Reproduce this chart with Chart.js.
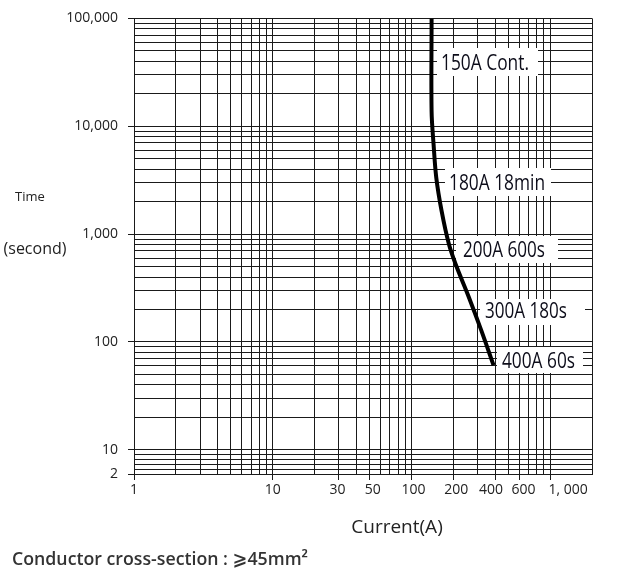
<!DOCTYPE html>
<html><head><meta charset="utf-8">
<script src="https://cdn.jsdelivr.net/npm/chart.js@4.4.1/dist/chart.umd.min.js"></script>
<style>html,body{margin:0;padding:0;background:#fff;} #wrap{position:relative;width:621px;height:571px;}</style>
</head><body><div id="wrap"><canvas id="c"></canvas></div>
<script>
// ---- data ----
const currentA = [139.6, 139.6, 144.3, 150.9, 164.8, 186.0, 207.8, 259.1, 318.4, 390.4];
const timeS    = [100000, 13750, 6776, 3332, 1641, 808, 528, 260, 128, 60.8];
const curveLabels = ['150A Cont.', '180A 18min', '200A 600s', '300A 180s', '400A 60s'];
const xTickValues = [1, 10, 30, 50, 100, 200, 400, 600, 1000];
const xTickLabels = ['1', '10', '30', '50', '100', '200', '400', '600', '1, 000'];
const xMax = 2000;
const yTickValues = [100000, 10000, 1000, 100, 10, 2];
const yTickLabels = ['100,000', '10,000', '1,000', '100', '10', '2'];
const yBottomLines = [8.4, 6.8, 5.2, 3.6];
const xTitle = 'Current(A)';
const yTitle1 = 'Time';
const yTitle2 = '(second)';
const footNote = 'Conductor cross-section : \u2A7E45mm\u00B2';

// ---- grid values (1..9 x 10^k) ----
const xGrid = [];
for (let k = 0; k < 3; k++) for (let m = 1; m <= 9; m++) xGrid.push(m * Math.pow(10, k));
xGrid.push(1000, xMax);
const yGrid = [];
for (let k = 1; k < 5; k++) for (let m = 1; m <= 9; m++) yGrid.push(m * Math.pow(10, k));
yGrid.push(100000);
yBottomLines.forEach(v => yGrid.push(v));
yGrid.push(2);

// broken axis: log above 10, compressed linear 2..10 below
const D = 0.224;
function fy(v) { return v >= 10 ? Math.log10(v) : 1 - (10 - v) / 8 * D; }

const FONT = "'Open Sans', 'DejaVu Sans', sans-serif";

const points = currentA.map((c, i) => ({ x: c, y: fy(timeS[i]) }));

function fitText(ctx, s, x, y, w) {
  const m = ctx.measureText(s).width;
  ctx.save(); ctx.translate(x, y); ctx.scale(w / m, 1); ctx.fillText(s, 0, 0); ctx.restore();
}

const labelBoxes = [
  { x: 437, y: 48, w: 101, h: 28, tx: 441, ty: 70, tw: 88 },
  { x: 445, y: 168, w: 106, h: 28, tx: 449, ty: 190, tw: 96 },
  { x: 456, y: 236, w: 102, h: 27, tx: 463, ty: 257, tw: 82 },
  { x: 480, y: 299, w: 105, h: 26, tx: 485, ty: 318, tw: 82 },
  { x: 497, y: 347, w: 86, h: 26, tx: 502, ty: 368, tw: 73 }
];
// horizontal nudges of the x tick labels (px)
const xLabelNudge = [0, 0, -1.5, 3, 2, 3, -4, 4, 18];

const textPlugin = {
  id: 'texts',
  beforeDatasetsDraw(chart) {
    const ctx = chart.ctx;
    ctx.save();
    ctx.font = "21px " + FONT;
    ctx.textBaseline = 'alphabetic';
    ctx.textAlign = 'left';
    labelBoxes.forEach((b, i) => {
      ctx.fillStyle = '#fff';
      ctx.fillRect(b.x, b.y, b.w, b.h);
      ctx.fillStyle = '#0d0d1a';
      fitText(ctx, curveLabels[i], b.tx, b.ty, b.tw);
    });
    ctx.restore();
  },
  afterDraw(chart) {
    const ctx = chart.ctx;
    const xs = chart.scales.x;
    ctx.save();
    ctx.fillStyle = '#222';
    ctx.textAlign = 'center';
    ctx.textBaseline = 'middle';
    ctx.font = "14px " + FONT;
    xTickValues.forEach((v, i) => {
      ctx.fillText(xTickLabels[i], xs.getPixelForValue(v) + xLabelNudge[i], xs.top + 16);
    });
    ctx.font = "13px " + FONT;
    ctx.fillText(yTitle1, 30, 197);
    ctx.font = "16px " + FONT;
    ctx.fillText(yTitle2, 35, 249);
    ctx.font = "19px " + FONT;
    ctx.fillText(xTitle, 397, 528);
    ctx.textAlign = 'left';
    ctx.textBaseline = 'alphabetic';
    ctx.fillStyle = '#333';
    ctx.font = "600 18px " + FONT;
    fitText(ctx, footNote, 12, 565, 296);
    ctx.restore();
  }
};

new Chart(document.getElementById('c'), {
  type: 'line',
  data: {
    datasets: [{
      data: points,
      borderColor: '#000',
      borderWidth: 4,
      pointRadius: 0,
      tension: 0.35,
      fill: false,
      borderCapStyle: 'butt'
    }]
  },
  options: {
    responsive: true,
    maintainAspectRatio: false,
    animation: false,
    devicePixelRatio: 1,
    layout: { padding: { left: 0, top: 17, right: 29, bottom: 57 } },
    plugins: { legend: { display: false }, tooltip: { enabled: false } },
    scales: {
      x: {
        type: 'logarithmic',
        min: 1, max: xMax,
        afterBuildTicks(scale) {
          scale.ticks = xGrid.map(v => ({ value: v, marked: xTickValues.indexOf(v) >= 0 }));
        },
        afterFit(scale) { scale.height = 40; },
        ticks: {
          autoSkip: false, maxRotation: 0, minRotation: 0, padding: 2,
          color: '#222', font: { family: FONT, size: 14 },
          callback() { return ''; }
        },
        grid: {
          color: '#1a1a1a', lineWidth: 1, tickLength: 6,
          tickColor: (c) => (c.tick && c.tick.marked) ? '#1a1a1a' : 'rgba(0,0,0,0)'
        },
        border: { color: '#1a1a1a', width: 1 }
      },
      y: {
        type: 'linear',
        min: fy(2), max: fy(100000),
        afterBuildTicks(scale) {
          scale.ticks = yGrid.map(v => {
            const i = yTickValues.indexOf(v);
            return { value: fy(v), lbl: i >= 0 ? yTickLabels[i] : '' };
          });
        },
        afterFit(scale) { scale.width = 134; },
        ticks: {
          autoSkip: false, padding: 10,
          color: '#222', font: { family: FONT, size: 14 },
          callback(value, index, ticks) { return ticks[index].lbl; }
        },
        grid: {
          color: '#1a1a1a', lineWidth: 1, tickLength: 6,
          tickColor: (c) => (c.tick && c.tick.lbl) ? '#1a1a1a' : 'rgba(0,0,0,0)'
        },
        border: { color: '#1a1a1a', width: 1 }
      }
    }
  },
  plugins: [textPlugin]
});
</script>
</body></html>
